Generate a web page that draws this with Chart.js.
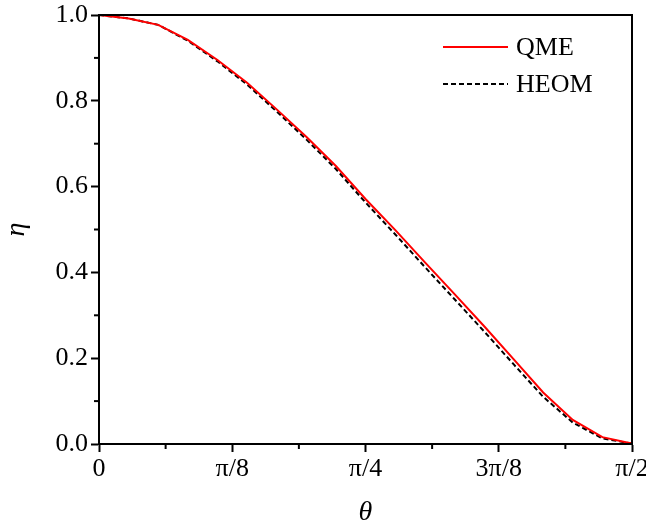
<!DOCTYPE html>
<html>
<head>
<meta charset="utf-8">
<script src="https://cdn.jsdelivr.net/npm/chart.js@4"></script>
<style>
  body { margin: 0; background: #fff; }
</style>
</head>
<body>
<canvas id="chart" width="646" height="527"></canvas>
<script>
// theta in degrees (0 .. 90 = pi/2)
const theta = [0, 5, 10, 15, 20, 25, 30, 35, 40, 45, 50, 55, 60, 65, 70, 75, 80, 85, 90];
const qme = [1.000, 0.992, 0.977, 0.942, 0.895, 0.842, 0.780, 0.716, 0.648, 0.571, 0.499, 0.424, 0.350, 0.275, 0.198, 0.120, 0.056, 0.016, 0.001];
const heom = [1.000, 0.992, 0.977, 0.940, 0.892, 0.838, 0.775, 0.710, 0.641, 0.563, 0.489, 0.413, 0.338, 0.263, 0.186, 0.110, 0.050, 0.013, 0.001];
const xTickLabels = ["0", "", "π/8", "", "π/4", "", "3π/8", "", "π/2"];

const font = "'Liberation Serif', 'Times New Roman', serif";

const toPoints = ys => theta.map((t, i) => ({ x: t, y: ys[i] }));

// box round the plot, minor ticks and the legend inside the plot
const extras = {
  id: "extras",
  afterDraw(chart) {
    const { ctx, chartArea: a, scales } = chart;
    ctx.save();
    ctx.strokeStyle = "#000";
    ctx.lineWidth = 2;
    ctx.strokeRect(a.left, a.top, a.right - a.left, a.bottom - a.top);

    scales.x.ticks.forEach((t, i) => {
      if (i % 2 === 1) {
        const px = scales.x.getPixelForValue(t.value);
        ctx.beginPath();
        ctx.moveTo(px, a.bottom);
        ctx.lineTo(px, a.bottom + 5);
        ctx.stroke();
      }
    });
    scales.y.ticks.forEach((t, i) => {
      if (i % 2 === 1) {
        const py = scales.y.getPixelForValue(t.value);
        ctx.beginPath();
        ctx.moveTo(a.left, py);
        ctx.lineTo(a.left - 5, py);
        ctx.stroke();
      }
    });

    // legend
    ctx.font = "26px " + font;
    ctx.textBaseline = "middle";
    ctx.fillStyle = "#000";
    chart.data.datasets.forEach((ds, i) => {
      const y = 47 + i * 37;
      ctx.strokeStyle = ds.borderColor;
      ctx.lineWidth = ds.borderWidth;
      ctx.setLineDash(ds.borderDash || []);
      ctx.beginPath();
      ctx.moveTo(443, y);
      ctx.lineTo(508, y);
      ctx.stroke();
      ctx.setLineDash([]);
      ctx.fillText(ds.label, 516, y + 1);
    });
    ctx.restore();
  }
};

new Chart(document.getElementById("chart"), {
  type: "line",
  data: {
    datasets: [
      {
        label: "QME",
        data: toPoints(qme),
        borderColor: "#ff0000",
        borderWidth: 2,
        pointRadius: 0,
        tension: 0
      },
      {
        label: "HEOM",
        data: toPoints(heom),
        borderColor: "#000000",
        borderWidth: 2,
        borderDash: [5, 3],
        pointRadius: 0,
        tension: 0
      }
    ]
  },
  options: {
    responsive: false,
    animation: false,
    layout: { padding: { left: 0, right: 14, top: 15, bottom: 0 } },
    plugins: {
      legend: { display: false },
      tooltip: { enabled: false }
    },
    scales: {
      x: {
        type: "linear",
        min: 0,
        max: 90,
        border: { color: "#000", width: 2 },
        grid: {
          drawOnChartArea: false,
          tickLength: 8,
          tickWidth: 2,
          tickColor: c => (c.index % 2 ? "rgba(0,0,0,0)" : "#000")
        },
        ticks: {
          stepSize: 11.25,
          autoSkip: false,
          maxRotation: 0,
          color: "#000",
          padding: 2,
          font: { family: font, size: 26 },
          callback: (v, i) => xTickLabels[i]
        },
        title: {
          display: true,
          text: "θ",
          color: "#000",
          padding: { top: 4, bottom: -2 },
          font: { family: font, size: 28, style: "italic" }
        },
        afterFit: s => {
          s.height = 83;
          s.paddingLeft = 0;
          s.paddingRight = 0;
        }
      },
      y: {
        min: 0,
        max: 1,
        border: { color: "#000", width: 2 },
        grid: {
          drawOnChartArea: false,
          tickLength: 8,
          tickWidth: 2,
          tickColor: c => (c.index % 2 ? "rgba(0,0,0,0)" : "#000")
        },
        ticks: {
          stepSize: 0.1,
          autoSkip: false,
          color: "#000",
          padding: 3,
          font: { family: font, size: 26 },
          callback: (v, i) => (i % 2 ? "" : v.toFixed(1))
        },
        title: {
          display: true,
          text: "η",
          color: "#000",
          padding: { top: 0, bottom: 10 },
          font: { family: font, size: 28, style: "italic" }
        },
        afterFit: s => {
          s.width = 99;
          s.paddingTop = 0;
          s.paddingBottom = 0;
        }
      }
    }
  },
  plugins: [extras]
});
</script>
</body>
</html>
